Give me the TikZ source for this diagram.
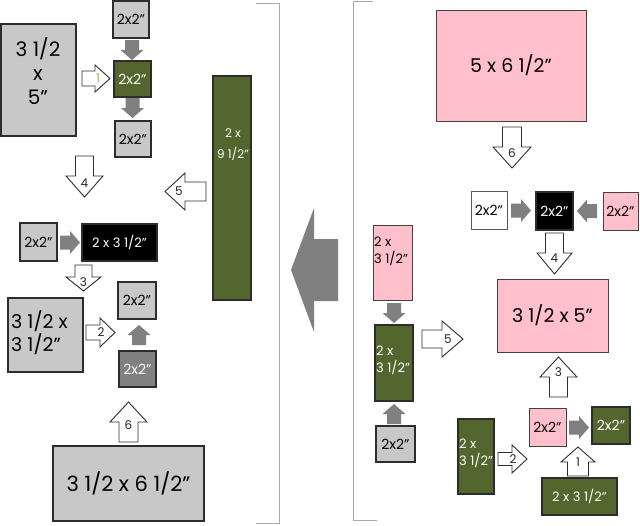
\documentclass[tikz,border=0pt]{standalone}
\usepackage{fontspec}
\setmainfont{Poppins}
\definecolor{lgray}{RGB}{200,200,200}
\definecolor{oliv}{RGB}{82,102,46}
\definecolor{pinkc}{RGB}{255,192,203}
\definecolor{dgray}{RGB}{128,128,128}
\definecolor{arrgray}{RGB}{128,128,128}
\definecolor{brk}{RGB}{170,170,170}
\definecolor{bline}{RGB}{45,45,45}
\definecolor{tanc}{RGB}{185,160,90}
\newcommand{\fsz}[2]{\fontsize{#1}{#2}\selectfont}
\newcounter{arrc}
% outline block arrow: x, y (tail centre), angle, length, head length, head width, shaft width, label pos, label
\newcommand{\blockarr}[9]{%
  \stepcounter{arrc}%
  \begin{scope}[shift={(#1,#2)}, rotate=#3]
    \draw[oarrow] (0,-#7/2) -- (#4-#5,-#7/2) -- (#4-#5,-#6/2) -- (#4,0)
      -- (#4-#5,#6/2) -- (#4-#5,#7/2) -- (0,#7/2) -- cycle;
    \node[alabel] (arrlbl\thearrc) at (#8,0) {#9};
  \end{scope}}
% filled grey arrow: x, y (tail centre), angle
\newcommand{\grayarr}[3]{%
  \begin{scope}[shift={(#1,#2)}, rotate=#3]
    \fill[arrgray] (0,-7) -- (10,-7) -- (10,-11.5) -- (20,0) -- (10,11.5)
      -- (10,7) -- (0,7) -- cycle;
  \end{scope}}
\tikzset{
  box/.style={draw=bline, line width=1.1pt, inner sep=0pt, text=black},
  gbox/.style={box, fill=lgray},
  grn/.style={box, fill=oliv, text=white},
  pnk/.style={box, fill=pinkc, draw=bline!90, line width=0.9pt},
  blk/.style={box, fill=black, text=white},
  dgr/.style={box, fill=dgray, text=white},
  wht/.style={box, fill=white, draw=bline!80, line width=0.9pt},
  small/.style={font=\fsz{14}{17}},
  mid/.style={font=\fsz{13}{16}},
  txt/.style={inner sep=0pt, align=left},
  oarrow/.style={draw=bline, line width=0.9pt, fill=white, line join=miter},
  alabel/.style={inner sep=0pt, font=\fsz{12}{13}, text=black!85},
  brkline/.style={draw=brk, line width=0.9pt}
}
\begin{document}
\begin{tikzpicture}[x=1pt,y=-1pt]
\useasboundingbox (0,0) rectangle (640,525);

% brackets
\draw[brkline] (256,3) -- (279,3) -- (279,523) -- (256,523);
\draw[brkline] (373,1) -- (353,1) -- (353,520) -- (377,520);

% big central arrow
\fill[arrgray] (291,270) -- (314,208) -- (314,239) -- (338,239) -- (338,301)
  -- (314,301) -- (314,332) -- cycle;

%%%%% LEFT SIDE
\node[gbox, minimum width=75pt, minimum height=112pt] (L1) at (38.5,80) {};
\node[txt, align=center, font=\fsz{20}{24}] (L1t) at (38,71) {3 1/2\\x\\5"};
\node[gbox, small, minimum width=36pt, minimum height=37pt] (L2) at (131,19.5) {2x2"};
\node[grn, small, minimum width=37pt, minimum height=36pt] (L3) at (132.5,79) {2x2"};
\node[gbox, small, minimum width=36pt, minimum height=36pt] (L4) at (133,139) {2x2"};
\node[grn, minimum width=38pt, minimum height=224pt] (L5) at (232,188) {};
\node[txt, align=center, text=white, font=\fsz{12}{21}] (L5t) at (233,145) {2 x\\9 1/2"};
\node[gbox, small, minimum width=37pt, minimum height=38pt] (L6) at (38.5,242) {2x2"};
\node[blk, mid, minimum width=75pt, minimum height=37pt] (L7) at (119.5,242.5) {2 x 3 1/2"};
\node[gbox, minimum width=75pt, minimum height=74pt] (L8) at (45.5,335) {};
\node[txt, anchor=west, font=\fsz{19}{23}] (L8t) at (11,333) {3 1/2 x\\3 1/2"};
\node[gbox, small, minimum width=38pt, minimum height=37pt] (L9) at (137,300.5) {2x2"};
\node[dgr, small, minimum width=37pt, minimum height=36pt] (L10) at (137.5,369) {2x2"};
\node[gbox, font=\fsz{21}{24}, minimum width=151pt, minimum height=75pt] (L11) at (128.5,483.5) {3 1/2 x 6 1/2"};

\grayarr{132}{40}{-90}
\grayarr{132.5}{98}{-90}
\grayarr{60}{242.5}{0}
\grayarr{139}{345}{90}

\blockarr{82}{78.5}{0}{28}{15}{27}{15}{16}{\textcolor{tanc}{1}}
\blockarr{84.5}{156}{-90}{41}{21}{37}{18}{27}{4}
\blockarr{206}{191.5}{180}{41}{20}{37}{19}{27}{5}
\blockarr{83.5}{265}{-90}{26}{14}{35}{17}{17}{3}
\blockarr{86}{332.5}{0}{29}{15}{29}{15}{15}{2}
\blockarr{128.5}{442}{90}{40}{20}{37}{19}{17}{6}

%%%%% RIGHT SIDE
\node[pnk, font=\fsz{19}{22}, minimum width=150pt, minimum height=111pt] (R1) at (511,65.5) {5 x 6 1/2"};
\node[wht, small, minimum width=36pt, minimum height=38pt] (R2) at (489,210) {2x2"};
\node[blk, small, minimum width=37pt, minimum height=38pt] (R3) at (554.5,211) {2x2"};
\node[pnk, small, minimum width=35pt, minimum height=38pt] (R4) at (620.5,211) {2x2"};
\node[pnk, font=\fsz{19}{22}, minimum width=111pt, minimum height=73pt] (R5) at (552.5,315.5) {3 1/2 x 5"};
\node[pnk, small, minimum width=37pt, minimum height=38pt] (R6) at (547.5,427) {2x2"};
\node[grn, small, minimum width=38pt, minimum height=37pt] (R7) at (611,425.5) {2x2"};
\node[grn, mid, minimum width=75pt, minimum height=37pt] (R8) at (579.5,496.5) {2 x 3 1/2"};
\node[grn, minimum width=36pt, minimum height=75pt] (R9) at (476,456.5) {};
\node[txt, anchor=west, text=white, font=\fsz{13}{17}] (R9t) at (459,453) {2 x\\3 1/2"};
\node[pnk, minimum width=39pt, minimum height=75pt] (R10) at (392.5,262.5) {};
\node[txt, anchor=west, font=\fsz{13}{17}] (R10t) at (374,251) {2 x\\3 1/2"};
\node[grn, minimum width=38pt, minimum height=76pt] (R11) at (394,363) {};
\node[txt, anchor=west, text=white, font=\fsz{13}{17}] (R11t) at (376,360) {2 x\\3 1/2"};
\node[gbox, small, minimum width=39pt, minimum height=36pt] (R12) at (395.5,444) {2x2"};

\grayarr{511}{210.5}{0}
\grayarr{597}{211}{180}
\grayarr{569}{427.5}{0}
\grayarr{394}{303}{-90}
\grayarr{394}{424}{90}

\blockarr{512}{127}{-90}{41}{21}{38}{19}{26}{6}
\blockarr{554.5}{233}{-90}{41}{21}{35}{18}{25}{4}
\blockarr{558.5}{397}{90}{40}{20}{37}{18}{25}{3}
\blockarr{422}{339}{0}{41}{21}{36}{18}{26}{5}
\blockarr{498}{459}{0}{29}{15}{28}{13}{15}{2}
\blockarr{578}{476}{90}{29}{15}{34}{21}{14}{1}
\end{tikzpicture}
\end{document}
